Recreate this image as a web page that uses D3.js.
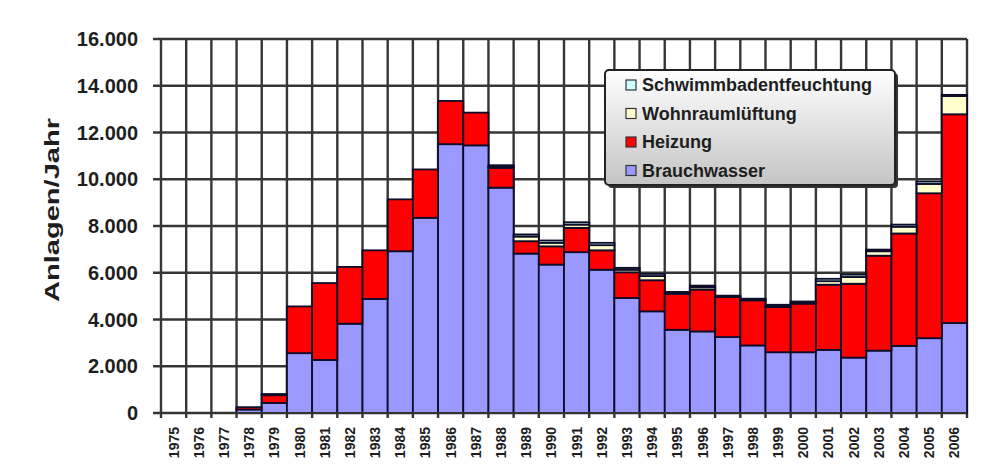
<!DOCTYPE html>
<html><head><meta charset="utf-8">
<script src="https://cdn.jsdelivr.net/npm/d3@7"></script>
<style>body{margin:0;background:#fff}svg{display:block}text{font-family:"Liberation Sans",Arial,sans-serif;font-weight:bold;fill:#1e1e1e}</style>
</head><body><div id="chart"></div>
<script>
const years = [1975,1976,1977,1978,1979,1980,1981,1982,1983,1984,1985,1986,1987,1988,1989,1990,1991,1992,1993,1994,1995,1996,1997,1998,1999,2000,2001,2002,2003,2004,2005,2006];
const brauchwasser = [0,0,0,150,430,2560,2270,3820,4880,6920,8350,11500,11450,9640,6820,6350,6880,6130,4920,4350,3560,3490,3250,2890,2600,2600,2700,2370,2670,2870,3200,3850];
const heizung = [0,0,0,100,330,2000,3290,2430,2080,2220,2070,1850,1400,850,530,780,1040,830,1100,1330,1540,1790,1710,1930,1930,2080,2790,3160,4060,4810,6200,8930];
const wohnraumlueftung = [0,0,0,0,30,0,0,0,0,0,0,0,0,60,200,150,140,220,110,180,40,100,30,40,60,50,150,290,190,290,400,780];
const schwimmbad = [0,0,0,0,20,0,0,0,0,0,0,0,0,50,90,100,100,100,80,90,40,70,30,30,40,40,100,100,70,90,100,50];
const seriesNames = ["Brauchwasser","Heizung","Wohnraumlüftung","Schwimmbadentfeuchtung"];
const seriesColors = ["#9999ff","#ff0000","#ffffcc","#ccffff"];
const yTicks = [0,2000,4000,6000,8000,10000,12000,14000,16000];
const yLabel = "Anlagen/Jahr";

const W = 992, H = 470;
const m = {left:161, right:25, top:39, bottom:57};
const svg = d3.select("#chart").append("svg").attr("width",W).attr("height",H);

const table = years.map((y,i)=>({year:y, Brauchwasser:brauchwasser[i], Heizung:heizung[i], "Wohnraumlüftung":wohnraumlueftung[i], Schwimmbadentfeuchtung:schwimmbad[i]}));
const stack = d3.stack().keys(seriesNames)(table);

const x = d3.scaleBand().domain(years).range([m.left, W-m.right]).padding(0);
const y = d3.scaleLinear().domain([0,16000]).range([H-m.bottom, m.top]);
const color = d3.scaleOrdinal().domain(seriesNames).range(seriesColors);

// grid
const grid = svg.append("g").attr("stroke","#363636").attr("stroke-width",2.4);
yTicks.forEach(t=>{
  grid.append("line").attr("x1",m.left-8).attr("x2",W-m.right).attr("y1",y(t)).attr("y2",y(t));
});
years.forEach(yr=>{
  grid.append("line").attr("x1",x(yr)).attr("x2",x(yr)).attr("y1",m.top).attr("y2",H-m.bottom+5);
});
grid.append("line").attr("x1",W-m.right).attr("x2",W-m.right).attr("y1",m.top).attr("y2",H-m.bottom+5);

// bars
svg.append("g").selectAll("g").data(stack).join("g")
  .attr("fill",d=>color(d.key))
  .selectAll("rect").data(d=>d).join("rect")
  .attr("x",d=>x(d.data.year))
  .attr("width",x.bandwidth())
  .attr("y",d=>y(d[1]))
  .attr("height",d=>Math.max(0,y(d[0])-y(d[1])))
  .attr("stroke",d=>(d[1]-d[0])>0?"#0d0d2a":"none")
  .attr("stroke-width",1.8);

// axis line
svg.append("line").attr("x1",m.left-8).attr("x2",W-m.right).attr("y1",y(0)).attr("y2",y(0)).attr("stroke","#333").attr("stroke-width",2.2);

// y tick labels
const fmt = v => v===0 ? "0" : d3.format(",")(v).replace(/,/g,".");
svg.append("g").selectAll("text").data(yTicks).join("text")
  .attr("x",138).attr("y",d=>y(d)).attr("dy","0.36em")
  .attr("text-anchor","end").attr("font-size",20).text(fmt);

// x labels
svg.append("g").selectAll("text").data(years).join("text")
  .attr("transform",d=>`translate(${x(d)+x.bandwidth()/2+5},${H-m.bottom+14}) rotate(-90)`)
  .attr("text-anchor","end").attr("font-size",14).text(d=>d);

// y label
svg.append("text").attr("transform",`translate(59,${(117+303)/2}) rotate(-90)`)
  .attr("text-anchor","middle").attr("font-size",20).attr("textLength",184).attr("lengthAdjust","spacingAndGlyphs").text(yLabel);

// legend
const defs = svg.append("defs");
const grad = defs.append("linearGradient").attr("id","lg").attr("x1",0).attr("x2",0).attr("y1",0).attr("y2",1);
grad.append("stop").attr("offset","0%").attr("stop-color","#ffffff");
grad.append("stop").attr("offset","100%").attr("stop-color","#c4c4c4");
const lg = svg.append("g").attr("transform","translate(605,70)");
lg.append("rect").attr("x",3).attr("y",3).attr("width",290).attr("height",115).attr("rx",4).attr("fill","#333");
lg.append("rect").attr("width",290).attr("height",115).attr("rx",4).attr("fill","url(#lg)").attr("stroke","#222").attr("stroke-width",2);
const legOrder = seriesNames.slice().reverse();
legOrder.forEach((name,i)=>{
  const cy = 15 + i*28.5;
  lg.append("rect").attr("x",21).attr("y",cy-5).attr("width",10).attr("height",10)
    .attr("fill",color(name)).attr("stroke","#333").attr("stroke-width",1.2);
  lg.append("text").attr("x",37).attr("y",cy).attr("dy","0.36em").attr("font-size",18).text(name);
});
</script></body></html>
